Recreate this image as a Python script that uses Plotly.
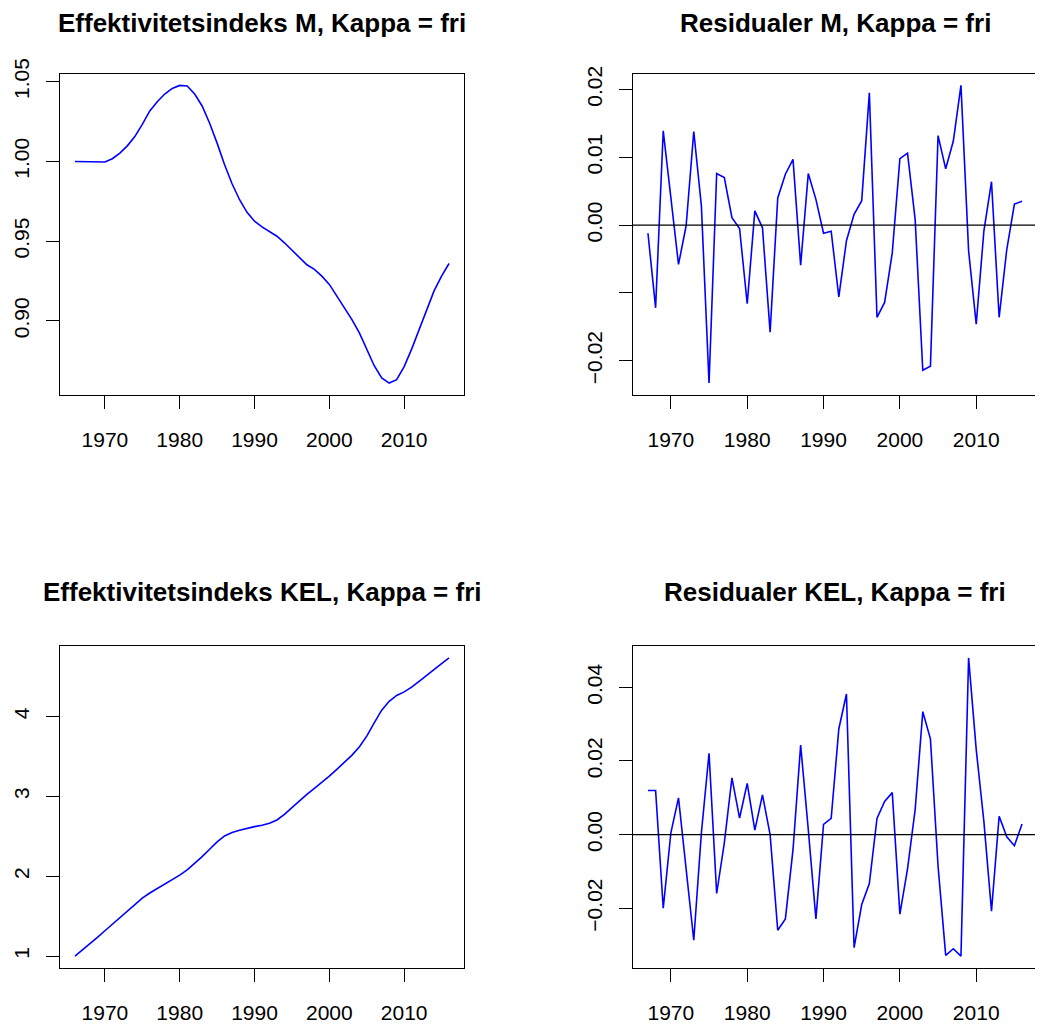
import plotly.graph_objects as go

# ---------------- data ----------------
years_idx = list(range(1966, 2017))
years_res = list(range(1967, 2017))

eff_m = [1.0000, 0.9999, 0.9998, 0.9997, 0.9997, 1.0017, 1.0052, 1.0098, 1.0156, 1.0233,
         1.0317, 1.0375, 1.0423, 1.0458, 1.0477, 1.0473, 1.0423, 1.0348, 1.0240, 1.0115,
         0.9979, 0.9860, 0.9760, 0.9681, 0.9625, 0.9590, 0.9560, 0.9531, 0.9490, 0.9442,
         0.9396, 0.9352, 0.9323, 0.9281, 0.9229, 0.9156, 0.9083, 0.9010, 0.8927, 0.8823,
         0.8719, 0.8642, 0.8610, 0.8631, 0.8713, 0.8823, 0.8942, 0.9063, 0.9188, 0.9281,
         0.9360]

res_m = [-0.0012, -0.0122, 0.0139, 0.0040, -0.0058, -0.0001, 0.0138, 0.0028, -0.0233, 0.0076,
         0.0070, 0.0011, -0.0005, -0.0116, 0.0021, -0.0004, -0.0158, 0.0040, 0.0075, 0.0097,
         -0.0059, 0.0076, 0.0038, -0.0012, -0.0009, -0.0106, -0.0023, 0.0016, 0.0036, 0.0195,
         -0.0136, -0.0114, -0.0041, 0.0098, 0.0106, 0.0008, -0.0214, -0.0208, 0.0132, 0.0083,
         0.0124, 0.0206, -0.0038, -0.0146, -0.0009, 0.0064, -0.0136, -0.0036, 0.0031, 0.0035]

eff_kel = [1.000, 1.075, 1.150, 1.233, 1.317, 1.400, 1.483, 1.567, 1.650, 1.725,
           1.790, 1.846, 1.900, 1.954, 2.013, 2.079, 2.158, 2.246, 2.338, 2.429,
           2.504, 2.546, 2.575, 2.600, 2.621, 2.638, 2.663, 2.704, 2.775, 2.858,
           2.946, 3.025, 3.100, 3.175, 3.254, 3.338, 3.420, 3.513, 3.617, 3.754,
           3.920, 4.079, 4.190, 4.263, 4.308, 4.367, 4.440, 4.517, 4.592, 4.663,
           4.733]

res_kel = [0.0120, 0.0120, -0.0200, 0.0005, 0.0100, -0.0095, -0.0287, 0.0005, 0.0221, -0.0160,
           -0.0023, 0.0154, 0.0045, 0.0139, 0.0012, 0.0108, 0.0000, -0.0260, -0.0229, -0.0041,
           0.0243, 0.0014, -0.0229, 0.0028, 0.0044, 0.0287, 0.0382, -0.0307, -0.0190, -0.0133,
           0.0044, 0.0090, 0.0114, -0.0216, -0.0093, 0.0068, 0.0334, 0.0260, -0.0086, -0.0328,
           -0.0310, -0.0330, 0.0480, 0.0231, 0.0036, -0.0208, 0.0050, -0.0006, -0.0030, 0.0029]

titles = ["Effektivitetsindeks M, Kappa = fri", "Residualer M, Kappa = fri",
          "Effektivitetsindeks KEL, Kappa = fri", "Residualer KEL, Kappa = fri"]

x_tickvals = [1970, 1980, 1990, 2000, 2010]
x_ticktext = ["1970", "1980", "1990", "2000", "2010"]

y1_tickvals = [0.90, 0.95, 1.00, 1.05]
y1_ticktext = ["0.90", "0.95", "1.00", "1.05"]
y2_tickvals = [-0.02, -0.01, 0.00, 0.01, 0.02]
y2_ticktext = ["\u22120.02", "", "0.00", "0.01", "0.02"]
y3_tickvals = [1, 2, 3, 4]
y3_ticktext = ["1", "2", "3", "4"]
y4_tickvals = [-0.02, 0.00, 0.02, 0.04]
y4_ticktext = ["\u22120.02", "0.00", "0.02", "0.04"]

# ---------------- layout helpers ----------------
PAGE_W, PAGE_H = 1043, 1029
OFF = 8                      # default body margin of the html page
W, H = PAGE_W - OFF, PAGE_H - OFF
FONT = "Liberation Sans, Arial, Helvetica, sans-serif"
BLUE = "#0000FF"


def pad(vals):
    lo, hi = min(vals), max(vals)
    d = (hi - lo) * 0.04
    return [lo - d, hi + d]


cols = [(60, 464), (633, 1037)]
rows = [(73.5, 395), (646, 968)]

panels = [
    (years_idx, eff_m, 0, 0, y1_tickvals, y1_ticktext, False),
    (years_res, res_m, 0, 1, y2_tickvals, y2_ticktext, True),
    (years_idx, eff_kel, 1, 0, y3_tickvals, y3_ticktext, False),
    (years_res, res_kel, 1, 1, y4_tickvals, y4_ticktext, True),
]

fig = go.Figure()
layout = dict(
    width=W, height=H,
    margin=dict(l=0, r=0, t=0, b=0, pad=0, autoexpand=False),
    paper_bgcolor="white", plot_bgcolor="white",
    showlegend=False,
    font=dict(family=FONT, color="black", size=21),
    annotations=[], shapes=[],
)

for i, (xs, ys, r, c, ytv, ytt, zero) in enumerate(panels):
    n = "" if i == 0 else str(i + 1)
    xa, ya = "x" + n, "y" + n
    fig.add_trace(go.Scatter(x=xs, y=ys, mode="lines", xaxis=xa, yaxis=ya,
                             line=dict(color=BLUE, width=1.6), hoverinfo="skip"))
    x0, x1 = [v - OFF for v in cols[c]]
    t0, t1 = [v - OFF for v in rows[r]]
    axis_common = dict(showgrid=False, zeroline=False, showline=True, mirror=True,
                       automargin=False,
                       linecolor="black", linewidth=1.3, ticks="outside", ticklen=13,
                       tickwidth=1.3, tickcolor="black",
                       tickfont=dict(family=FONT, size=21, color="black"))
    layout["xaxis" + n] = dict(axis_common, domain=[x0 / W, min(x1 / W, 1.0)], range=pad(xs),
                               anchor=ya, tickvals=x_tickvals, ticktext=x_ticktext,
                               ticklabelstandoff=13)
    layout["yaxis" + n] = dict(axis_common, domain=[1 - t1 / H, 1 - t0 / H], range=pad(ys),
                               anchor=xa, tickvals=ytv, ticktext=ytt, tickangle=-90,
                               ticklabelstandoff=8)
    layout["annotations"].append(dict(
        text="<b>" + titles[i] + "</b>", xref="paper", yref="paper",
        x=((x0 + x1) / 2) / W, y=1 - ((23 if r == 0 else 592) - OFF) / H,
        xanchor="center", yanchor="middle", showarrow=False,
        font=dict(family=FONT, size=26, color="black")))
    if zero:
        layout["shapes"].append(dict(type="line", xref=xa + " domain", yref=ya,
                                     x0=0, x1=1, y0=0, y1=0,
                                     line=dict(color="black", width=1.3)))

fig.update_layout(**layout)
fig.write_html("out.html")
